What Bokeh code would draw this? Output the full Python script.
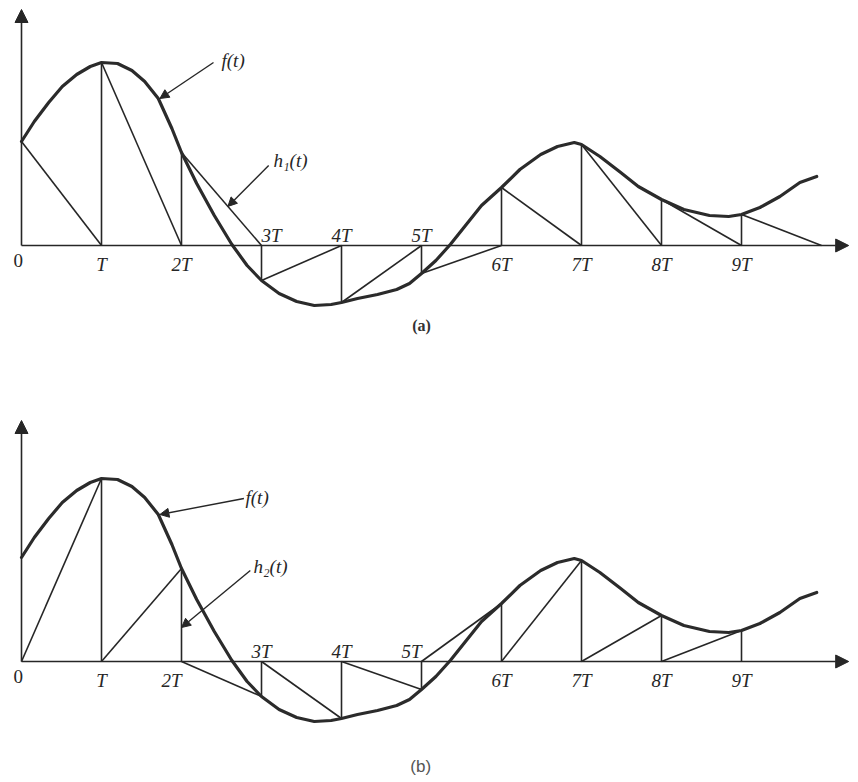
from bokeh.plotting import figure
from bokeh.layouts import column
from bokeh.models import Range1d, Arrow, NormalHead, ColumnDataSource, Label
from bokeh.core.properties import value
from bokeh.embed import file_html
from bokeh.resources import INLINE

# ---- data (t in units of T) ----
curve_t = [0, 0.16, 0.34, 0.51, 0.69, 0.86, 1.0, 1.2, 1.38, 1.54, 1.71, 1.88, 2.0,
           2.19, 2.41, 2.63, 2.82, 3.0, 3.22, 3.44, 3.66, 3.87, 4.0, 4.2, 4.45,
           4.69, 4.85, 5.0, 5.18, 5.36, 5.53, 5.75, 6.0, 6.23, 6.49, 6.7, 6.91, 7.0, 7.23,
           7.49, 7.71, 8.0, 8.28, 8.6, 8.84, 9.0, 9.23, 9.48, 9.73, 9.94]
curve_f = [1.04, 1.24, 1.43, 1.59, 1.71, 1.79, 1.83, 1.82, 1.75, 1.64, 1.47, 1.17, 0.93,
           0.62, 0.30, 0.01, -0.20, -0.35, -0.48, -0.56, -0.60, -0.59, -0.57, -0.53, -0.49,
           -0.44, -0.38, -0.28, -0.15, 0.01, 0.18, 0.40, 0.58, 0.76, 0.91, 0.99, 1.03, 1.01, 0.89,
           0.73, 0.59, 0.46, 0.36, 0.30, 0.29, 0.31, 0.38, 0.49, 0.63, 0.69]
sample_k = [0, 1, 2, 3, 4, 5, 6, 7, 8, 9]
sample_f = [1.04, 1.83, 0.93, -0.35, -0.57, -0.28, 0.58, 1.01, 0.46, 0.31]
tick_labels = ["0", "T", "2T", "3T", "4T", "5T", "6T", "7T", "8T", "9T"]

INK = "#262626"
SERIF = "serif"
W = 850


def base_fig(h, y0, y1):
    p = figure(width=W, height=h, output_backend="svg", toolbar_location=None,
               x_axis_type=None, y_axis_type=None,
               x_range=Range1d(-0.2625, 10.3625), y_range=Range1d(y0, y1),
               min_border=0, min_border_left=0, min_border_right=0,
               min_border_top=0, min_border_bottom=0)
    p.outline_line_color = None
    p.grid.visible = False
    p.background_fill_color = "white"
    p.border_fill_color = "white"
    return p


def axes(p, ytop):
    p.add_layout(Arrow(end=NormalHead(size=13, fill_color=INK, line_color=INK),
                       x_start=0, y_start=0, x_end=10.34, y_end=0,
                       line_color=INK, line_width=1.6))
    p.add_layout(Arrow(end=NormalHead(size=13, fill_color=INK, line_color=INK),
                       x_start=0, y_start=0, x_end=0, y_end=ytop,
                       line_color=INK, line_width=1.6))


def ticks(p, aligns):
    xs, ys, txt, al, bl, st = [], [], [], [], [], []
    for k, lab, fv, a in zip(sample_k, tick_labels, sample_f, aligns):
        above = fv < 0
        xs.append(k - 0.04 if k == 0 else k)
        ys.append(0.0 if above else -0.08)
        txt.append(lab)
        al.append(a)
        bl.append("bottom" if above else "top")
        st.append("normal" if k == 0 else "italic")
    src = ColumnDataSource(dict(x=xs, y=ys, text=txt, align=al, base=bl, style=st))
    p.text("x", "y", text="text", source=src, text_align="align", text_baseline="base",
           text_font=value(SERIF), text_font_style="style", text_font_size="19px",
           text_color=INK)


def curve(p):
    p.line(curve_t, curve_f, line_color="#2b2b2b", line_width=3.2, line_join="round",
           line_cap="round")


def verticals(p):
    ks = [k for k in sample_k if k > 0]
    fs = [f for k, f in zip(sample_k, sample_f) if k > 0]
    p.segment(x0=ks, y0=[0] * len(ks), x1=ks, y1=fs, line_color=INK, line_width=1.6)


def pointer(p, text, tx, ty, x_tip, y_tip, lx, ly):
    p.add_layout(Arrow(end=NormalHead(size=9, fill_color=INK, line_color=INK),
                       x_start=tx, y_start=ty, x_end=x_tip, y_end=y_tip,
                       line_color=INK, line_width=1.4))
    p.add_layout(Label(x=lx, y=ly, text=text, text_font=SERIF, text_font_style="italic",
                       text_font_size="19px", text_color=INK,
                       text_baseline="middle", text_align="left"))


tip_i = curve_t.index(1.71)

# ---- panel (a): h1 ----
pa = base_fig(383, -1.38, 2.45)
axes(pa, 2.36)
verticals(pa)
pa.segment(x0=sample_k, y0=sample_f, x1=[k + 1 for k in sample_k], y1=[0] * len(sample_k),
           line_color=INK, line_width=1.6)
curve(pa)
al_a = ["center"] * 10
al_a[3] = "left"
ticks(pa, al_a)
pointer(pa, "f(t)", 2.4, 1.83, curve_t[tip_i] + 0.02, curve_f[tip_i], 2.5, 1.85)
h1_tip_t = 2.58
h1_tip = sample_f[2] * (3 - h1_tip_t)
pointer(pa, "h\u2081(t)", 3.09, 0.80, h1_tip_t, h1_tip, 3.15, 0.85)
pa.add_layout(Label(x=5.0, y=-0.80, text="(a)", text_font=SERIF, text_font_style="bold",
                    text_font_size="16px", text_color="#333", text_align="center",
                    text_baseline="middle"))

# ---- panel (b): h2 ----
pb = base_fig(395, -1.17, 2.78)
axes(pb, 2.41)
verticals(pb)
pb.segment(x0=sample_k[:-1], y0=[0] * (len(sample_k) - 1), x1=sample_k[1:], y1=sample_f[1:],
           line_color=INK, line_width=1.6)
curve(pb)
al_b = ["center"] * 10
al_b[2] = "right"
al_b[5] = "right"
ticks(pb, al_b)
pointer(pb, "f(t)", 2.78, 1.63, curve_t[tip_i] + 0.02, curve_f[tip_i], 2.8, 1.64)
pointer(pb, "h\u2082(t)", 2.86, 0.91, 2.0, 0.34, 2.9, 0.95)
pb.add_layout(Label(x=4.99, y=-1.05, text="(b)", text_font="sans-serif",
                    text_font_size="17px", text_color="#555", text_align="center",
                    text_baseline="middle"))

layout = column(pa, pb, spacing=0)
open("out.html", "w").write(file_html(layout, INLINE))
